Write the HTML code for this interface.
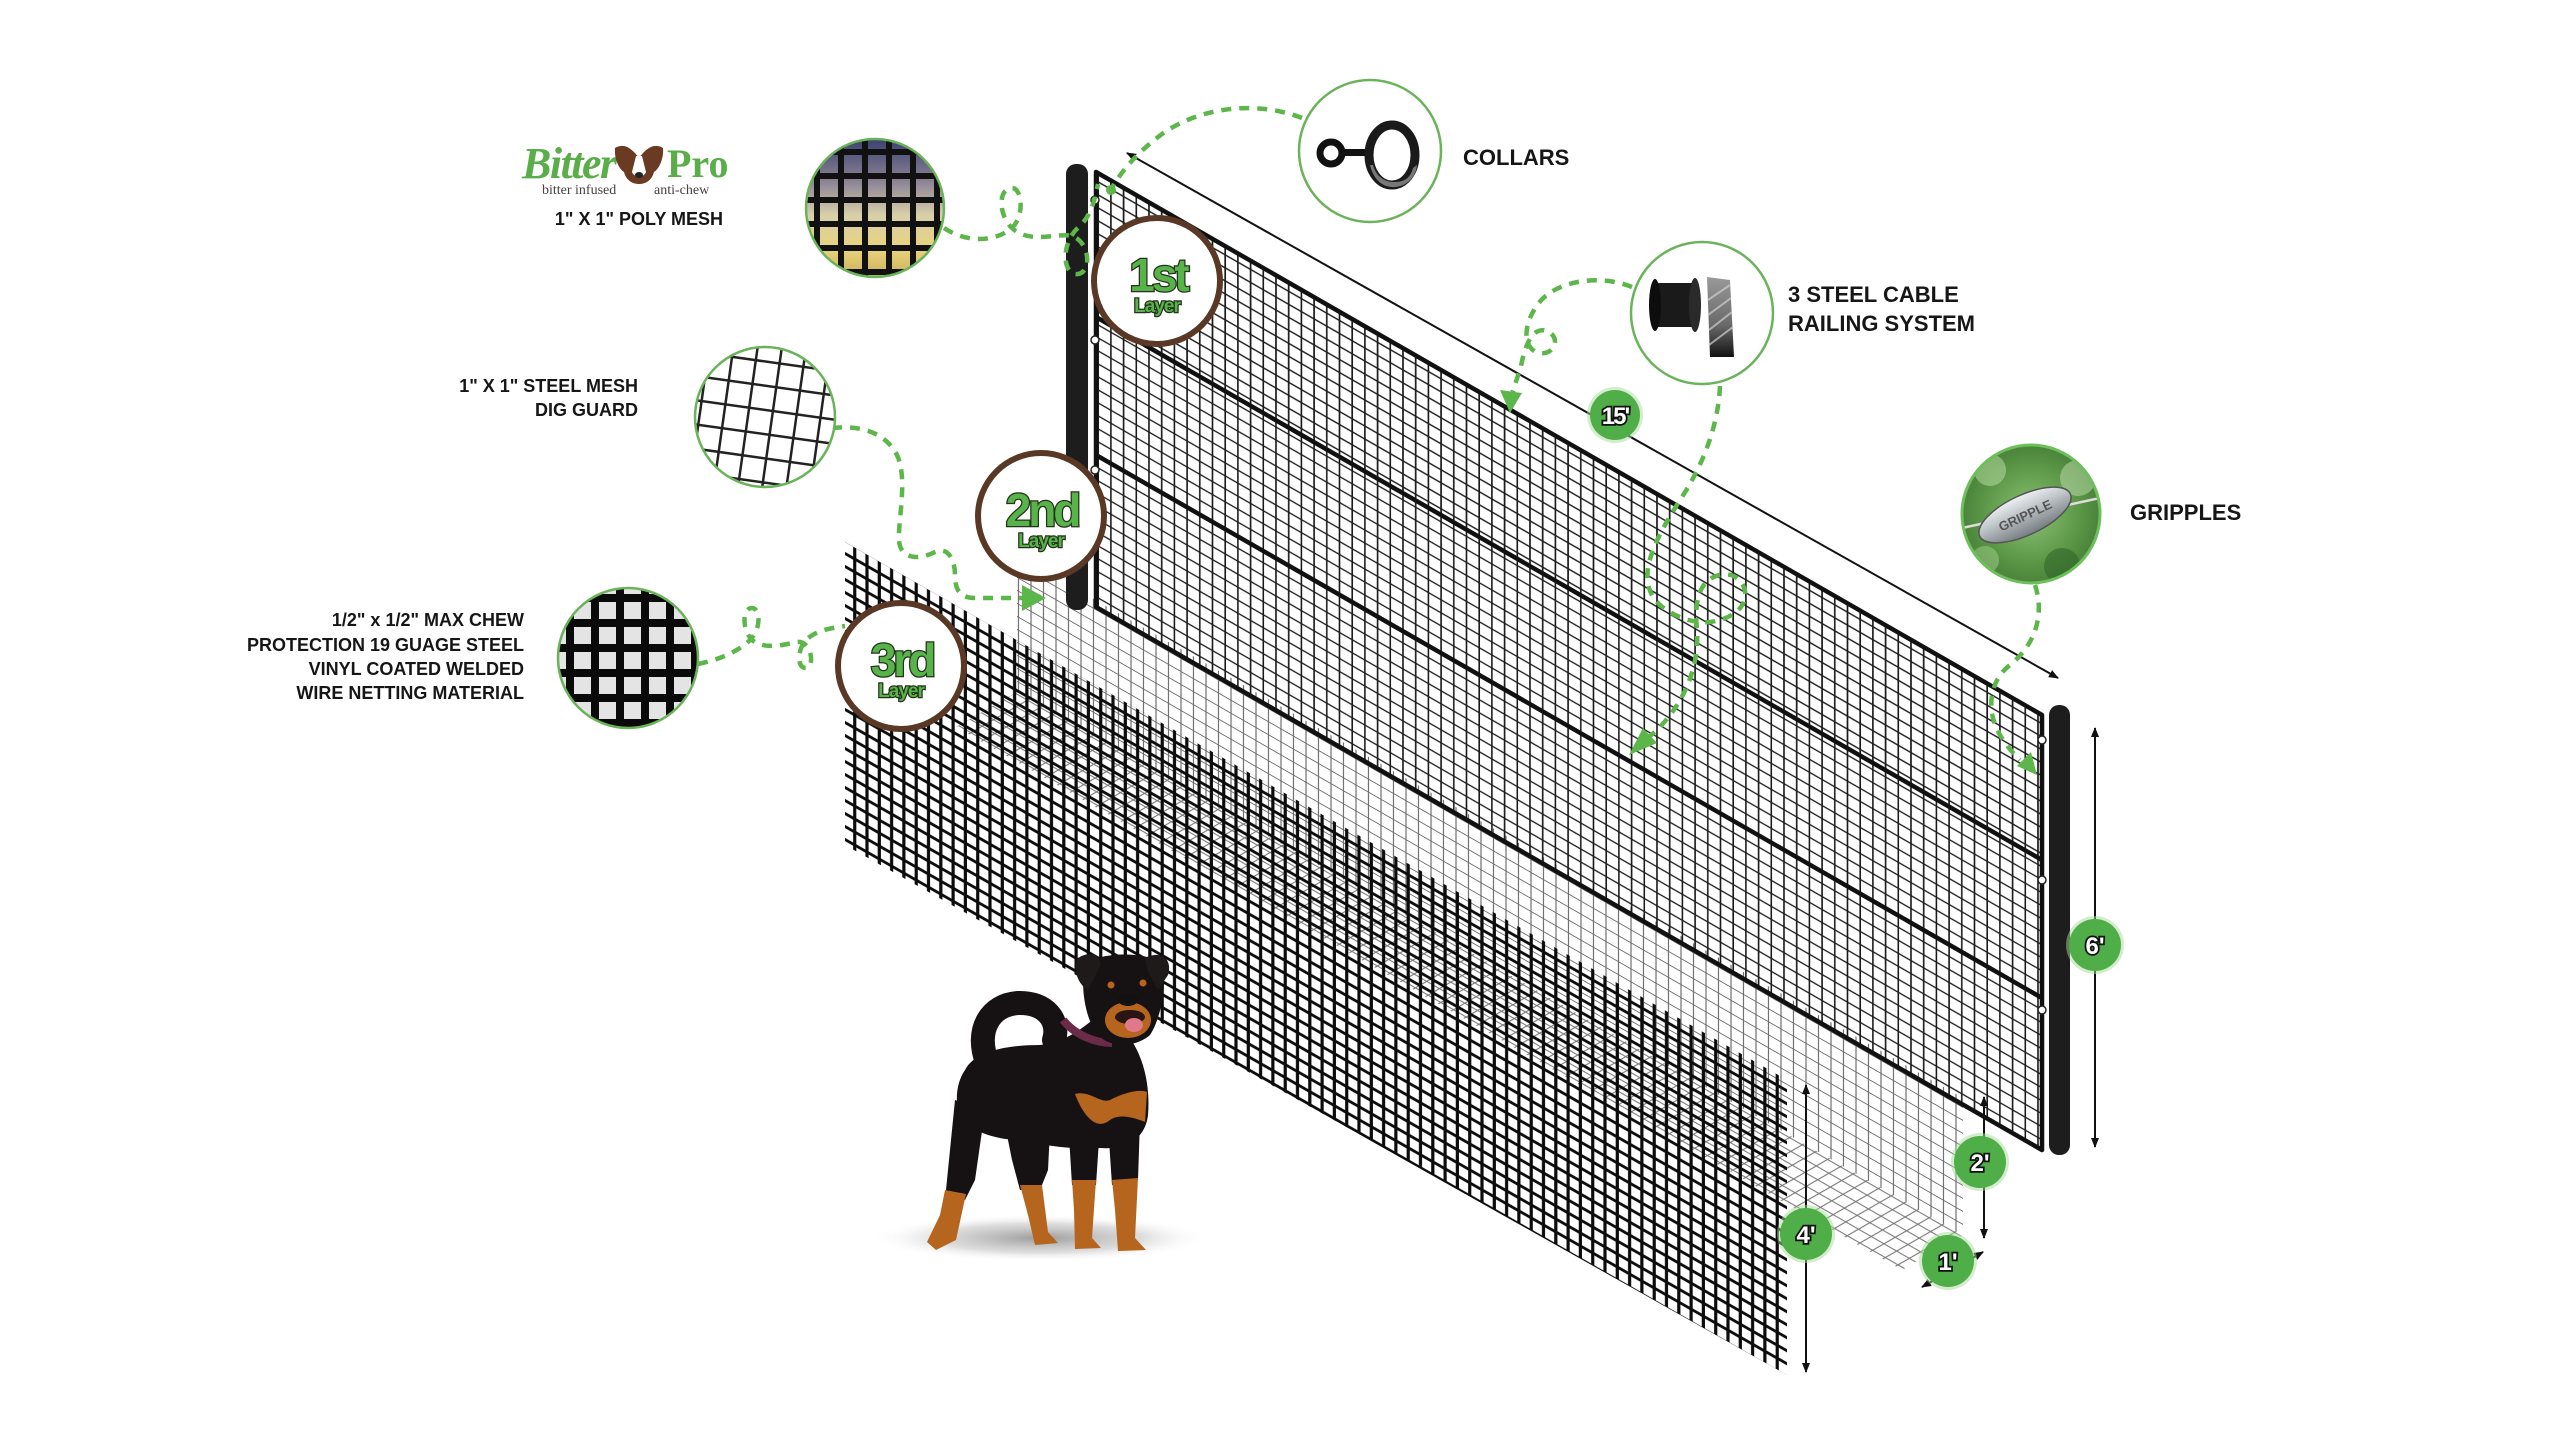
<!DOCTYPE html>
<html><head><meta charset="utf-8">
<style>html,body{margin:0;padding:0;background:#fff;}svg{display:block}</style>
</head>
<body>
<svg width="2560" height="1440" viewBox="0 0 2560 1440" xmlns="http://www.w3.org/2000/svg">
<style>
.lab{font-family:"Liberation Sans",Arial,sans-serif;font-weight:700;font-size:18px;fill:#161616}
.lab22{font-family:"Liberation Sans",Arial,sans-serif;font-weight:700;font-size:22px;fill:#161616}
.lay{font-family:"Liberation Sans",Arial,sans-serif;font-weight:700;fill:#58b34a;stroke:#24331b;stroke-width:2.5;paint-order:stroke}
.dim{font-family:"Liberation Sans",Arial,sans-serif;font-weight:700;font-size:24px;fill:#fff;stroke:#111;stroke-width:3.5;paint-order:stroke}
.cn{fill:none;stroke:#5cb64a;stroke-width:4.5;stroke-dasharray:10 8}
</style>
<defs>
 <pattern id="pFrame" width="12.7" height="13" patternUnits="userSpaceOnUse" patternTransform="skewY(29.86)">
  <path d="M6 0V13M0 6.5H12.7" stroke="#1a1a1a" stroke-width="1.6" fill="none"/>
 </pattern>
 <pattern id="pHeavy" width="12.3" height="13" patternUnits="userSpaceOnUse" patternTransform="skewY(29.7)">
  <path d="M6 0V13M0 6.5H12.3" stroke="#0c0c0c" stroke-width="3.2" fill="none"/>
 </pattern>
 <pattern id="pLight" width="12.5" height="13" patternUnits="userSpaceOnUse" patternTransform="skewY(29.86)">
  <path d="M6 0V13M0 6.5H12.5" stroke="#6a6a6a" stroke-width="1.1" fill="none"/>
 </pattern>
 <pattern id="pFloor" width="12.7" height="13" patternUnits="userSpaceOnUse" patternTransform="matrix(1,0.574,-0.87,0.5,0,0)">
  <path d="M6 0V13M0 6.5H12.7" stroke="#777" stroke-width="1.1" fill="none"/>
 </pattern>
 <clipPath id="cFrame"><polygon points="1096,172 2042,715 2042,1150 1096,607"/></clipPath>
 <clipPath id="cPoly"><circle cx="875" cy="208" r="69"/></clipPath>
 <clipPath id="cSteel"><circle cx="765" cy="417" r="70"/></clipPath>
 <clipPath id="cMax"><circle cx="628" cy="658" r="70"/></clipPath>
 <clipPath id="cGrip"><circle cx="2031" cy="514" r="69"/></clipPath>
 <linearGradient id="gPoly" x1="0" y1="0" x2="0" y2="1">
  <stop offset="0" stop-color="#3b416f"/><stop offset="0.3" stop-color="#8a8194"/>
  <stop offset="0.55" stop-color="#d8cfab"/><stop offset="0.8" stop-color="#e8d37c"/><stop offset="1" stop-color="#cdb05a"/>
 </linearGradient>
 <radialGradient id="gGrip" cx="0.5" cy="0.5" r="0.6">
  <stop offset="0" stop-color="#8cc274"/><stop offset="0.6" stop-color="#5a9646"/><stop offset="1" stop-color="#3f7532"/>
 </radialGradient>
 <linearGradient id="gMetal" x1="0" y1="0" x2="0" y2="1">
  <stop offset="0" stop-color="#eef1f2"/><stop offset="0.5" stop-color="#b3babe"/><stop offset="1" stop-color="#767d81"/>
 </linearGradient>
 <linearGradient id="gCable" x1="0" y1="0" x2="0" y2="1">
  <stop offset="0" stop-color="#9a9a9a"/><stop offset="0.6" stop-color="#6a6a6a"/><stop offset="1" stop-color="#111"/>
 </linearGradient>
 <radialGradient id="gShadow" cx="0.5" cy="0.5" r="0.5">
  <stop offset="0" stop-color="#7a7a7a" stop-opacity="0.75"/><stop offset="0.6" stop-color="#aaa" stop-opacity="0.4"/><stop offset="1" stop-color="#fff" stop-opacity="0"/>
 </radialGradient>
 <marker id="ar" viewBox="0 0 10 10" refX="9" refY="5" markerWidth="5" markerHeight="5" orient="auto-start-reverse">
  <path d="M0,1 L10,5 L0,9z" fill="#111"/>
 </marker>
</defs>
<rect width="2560" height="1440" fill="#fff"/>

<!-- dig guard (light mesh) -->
<polygon points="1017,555 1963,1098 1963,1235 1017,692" fill="url(#pLight)"/>
<polygon points="1017,692 1963,1235 1902,1270 956,727" fill="url(#pFloor)"/>

<!-- frame mesh -->
<polygon points="1096,172 2042,715 2042,1150 1096,607" fill="url(#pFrame)"/>
<polygon points="1096,172 2042,715 2042,862 1096,317" fill="url(#pFrame)" opacity="0.35"/>

<!-- frame lines -->
<polygon points="1096,172 2042,715 2042,1150 1096,607" fill="none" stroke="#111" stroke-width="4.5" stroke-linejoin="round"/>
<line x1="1096" y1="317" x2="2042" y2="860" stroke="#111" stroke-width="4.5"/>
<line x1="1096" y1="455" x2="2042" y2="998" stroke="#111" stroke-width="4.5"/>

<!-- poles -->
<rect x="1066" y="164" width="22" height="446" rx="10" fill="#1d1d1d"/>
<rect x="2049" y="705" width="21" height="450" rx="10" fill="#1d1d1d"/>
<g fill="#fff" stroke="#222" stroke-width="1.5">
 <circle cx="1095" cy="200" r="4"/><circle cx="1095" cy="340" r="4"/><circle cx="1095" cy="470" r="4"/>
 <circle cx="2042" cy="740" r="4"/><circle cx="2042" cy="880" r="4"/><circle cx="2042" cy="1010" r="4"/>
</g>

<!-- 3rd layer heavy mesh -->
<polygon points="845,542 1787,1080 1787,1375 845,845" fill="url(#pHeavy)"/>

<!-- dimension lines -->
<line x1="1127" y1="153" x2="2058" y2="678" stroke="#111" stroke-width="2" marker-start="url(#ar)" marker-end="url(#ar)"/>
<line x1="2095" y1="728" x2="2095" y2="1147" stroke="#111" stroke-width="2" marker-start="url(#ar)" marker-end="url(#ar)"/>
<line x1="1984" y1="1097" x2="1984" y2="1238" stroke="#111" stroke-width="2" marker-start="url(#ar)" marker-end="url(#ar)"/>
<line x1="1806" y1="1085" x2="1806" y2="1372" stroke="#111" stroke-width="2" marker-start="url(#ar)" marker-end="url(#ar)"/>
<line x1="1922" y1="1287" x2="1983" y2="1252" stroke="#111" stroke-width="2" marker-start="url(#ar)" marker-end="url(#ar)"/>

<!-- dog -->
<ellipse cx="1040" cy="1238" rx="170" ry="24" fill="url(#gShadow)"/>
<g>
 <path d="M955,1100 L985,1110 L975,1180 L965,1200 L945,1200 L948,1170Z" fill="#161213"/>
 <path d="M945,1190 L966,1194 L956,1240 L936,1250 L927,1242 L940,1215Z" fill="#b5651e"/>
 <path d="M1005,1125 L1050,1130 L1048,1170 L1040,1190 L1020,1190 L1012,1160Z" fill="#161213"/>
 <path d="M1020,1185 L1042,1185 L1048,1232 L1058,1243 L1035,1245 L1028,1215Z" fill="#b5651e"/>
 <path d="M1068,1120 L1100,1125 L1096,1185 L1072,1185Z" fill="#161213"/>
 <path d="M1072,1180 L1096,1180 L1092,1238 L1101,1248 L1075,1249 L1074,1210Z" fill="#b5651e"/>
 <path d="M1108,1125 L1140,1120 L1138,1180 L1112,1185Z" fill="#161213"/>
 <path d="M1112,1180 L1138,1178 L1135,1238 L1146,1250 L1118,1251 L1115,1210Z" fill="#b5651e"/>
 <path d="M987,1062 C975,1030 990,1005 1018,1003 C1045,1002 1060,1020 1054,1040" fill="none" stroke="#161213" stroke-width="24" stroke-linecap="round"/>
 <path d="M965,1070 C975,1050 1010,1045 1040,1045 C1065,1042 1080,1030 1095,1018 L1128,1035 C1146,1060 1150,1090 1148,1115 C1145,1140 1125,1150 1100,1148 C1070,1150 1045,1145 1015,1140 C990,1138 965,1130 958,1110 C955,1095 958,1080 965,1070Z" fill="#161213"/>
 <path d="M1075,1094 C1090,1090 1100,1104 1110,1100 C1125,1092 1140,1089 1147,1092 L1145,1122 C1135,1118 1120,1113 1110,1120 C1098,1130 1085,1120 1075,1094Z" fill="#b5651e"/>
 <path d="M1063,1020 C1075,1035 1095,1043 1112,1043" fill="none" stroke="#6a2a48" stroke-width="8"/>
 <path d="M1085,965 C1095,952 1150,950 1162,965 C1168,985 1160,1020 1150,1035 C1135,1048 1110,1048 1098,1035 C1085,1020 1080,985 1085,965Z" fill="#161213"/>
 <path d="M1078,958 C1090,950 1102,955 1100,966 L1088,990 C1078,985 1072,968 1078,958Z" fill="#1f1a1a"/>
 <path d="M1145,958 C1160,950 1173,958 1168,975 L1158,990 L1148,972Z" fill="#1f1a1a"/>
 <ellipse cx="1128" cy="1020" rx="23" ry="18" fill="#b5651e"/>
 <circle cx="1111" cy="985" r="3.5" fill="#b5651e"/><circle cx="1143" cy="983" r="3.5" fill="#b5651e"/>
 <ellipse cx="1128" cy="1000" rx="10" ry="6" fill="#111"/>
 <ellipse cx="1130" cy="1017" rx="15" ry="7" fill="#2a1414"/>
 <ellipse cx="1134" cy="1025" rx="9" ry="7" fill="#e07a8a"/>
</g>

<!-- connectors -->
<path class="cn" d="M1302,118 C1262,102 1205,104 1162,134 C1138,152 1122,170 1112,188"/>
<circle cx="1111" cy="190" r="5" fill="#5cb64a"/>
<path class="cn" d="M944,228 C970,245 998,240 1012,228 C1025,215 1022,188 1012,188 C998,188 998,215 1012,228 C1030,245 1058,232 1072,236 C1090,242 1092,272 1078,274 C1062,276 1060,242 1080,226 C1092,214 1095,198 1098,184"/>
<path class="cn" d="M832,428 C860,425 885,432 897,455 C908,478 898,520 899,540 C900,560 920,560 935,552 C948,546 955,560 955,575 C955,590 960,598 975,598 L1024,598"/>
<polygon points="1022,585 1046,598 1022,611" fill="#5cb64a"/>
<path class="cn" d="M698,664 C718,660 738,652 750,640 C762,628 760,608 752,608 C742,608 742,630 752,640 C765,650 782,645 797,642 C812,640 815,668 806,668 C796,668 798,648 806,640 C816,630 832,628 845,626"/>
<path class="cn" d="M1632,287 C1600,274 1556,280 1538,304 C1524,323 1522,345 1536,352 C1552,358 1562,340 1549,332 C1533,324 1525,345 1521,366 L1512,394"/>
<polygon points="1500,390 1522,393 1510,413" fill="#5cb64a"/>
<path class="cn" d="M1720,386 C1718,430 1700,470 1680,500 C1656,538 1632,580 1660,605 C1680,622 1712,630 1736,612 C1755,597 1742,570 1720,575 C1695,580 1695,610 1697,630 C1700,680 1672,718 1650,736"/>
<polygon points="1657,743 1643,728 1629,755" fill="#5cb64a"/>
<path class="cn" d="M2035,585 C2045,615 2035,645 2010,665 C1990,680 1985,710 2000,735 C2008,748 2014,754 2020,760"/>
<polygon points="2031,752 2017,766 2037,775" fill="#5cb64a"/>

<!-- logo -->
<text x="522" y="178" font-family="'Liberation Serif',serif" font-style="italic" font-weight="700" font-size="44" letter-spacing="-1.5" fill="#5aae4a">Bitter</text>
<g>
 <path d="M615,148 C625,142 633,150 639,158 C645,150 653,142 663,148 C664,160 658,170 654,172 C652,180 646,184 639,184 C632,184 626,180 624,172 C620,170 614,160 615,148Z" fill="#6b3a22"/>
 <path d="M636,156 L642,156 L646,172 C644,178 634,178 632,172Z" fill="#fff"/>
 <ellipse cx="639" cy="175" rx="4" ry="3" fill="#222"/>
</g>
<text x="667" y="177" font-family="'Liberation Serif',serif" font-weight="700" font-size="40" fill="#5aae4a">Pro</text>
<text x="542" y="194" font-family="'Liberation Serif',serif" font-size="14" fill="#4a4040">bitter infused</text>
<text x="654" y="194" font-family="'Liberation Serif',serif" font-size="14" fill="#4a4040">anti-chew</text>
<text x="639" y="225" class="lab" text-anchor="middle" font-size="17">1" X 1" POLY MESH</text>

<!-- left labels -->
<text x="638" y="392" class="lab" text-anchor="end">1" X 1" STEEL MESH</text>
<text x="638" y="416" class="lab" text-anchor="end">DIG GUARD</text>
<text x="524" y="626" class="lab" text-anchor="end">1/2" x 1/2" MAX CHEW</text>
<text x="524" y="651" class="lab" text-anchor="end">PROTECTION 19 GUAGE STEEL</text>
<text x="524" y="675" class="lab" text-anchor="end">VINYL COATED WELDED</text>
<text x="524" y="699" class="lab" text-anchor="end">WIRE NETTING MATERIAL</text>

<!-- right labels -->
<text x="1463" y="165" class="lab22">COLLARS</text>
<text x="1788" y="302" class="lab22">3 STEEL CABLE</text>
<text x="1788" y="331" class="lab22">RAILING SYSTEM</text>
<text x="2130" y="520" class="lab22">GRIPPLES</text>

<!-- poly mesh circle -->
<g clip-path="url(#cPoly)">
 <rect x="806" y="139" width="138" height="138" fill="url(#gPoly)"/>
 <g stroke="#111" stroke-width="6">
  <path d="M817,139V277M841,139V277M865,139V277M889,139V277M913,139V277M937,139V277"/>
  <path d="M806,152H944M806,176H944M806,200H944M806,224H944M806,248H944M806,272H944"/>
 </g>
</g>
<circle cx="875" cy="208" r="69" fill="none" stroke="#6bb35a" stroke-width="2.5"/>

<!-- steel mesh circle -->
<g clip-path="url(#cSteel)">
 <rect x="695" y="347" width="140" height="140" fill="#fff"/>
 <g stroke="#222" stroke-width="2.5" transform="rotate(8 765 417)">
  <path d="M700,340V500M724,340V500M748,340V500M772,340V500M796,340V500M820,340V500"/>
  <path d="M680,362H850M680,386H850M680,410H850M680,434H850M680,458H850M680,482H850"/>
 </g>
</g>
<circle cx="765" cy="417" r="70" fill="none" stroke="#6bb35a" stroke-width="2.5"/>

<!-- max chew circle -->
<g clip-path="url(#cMax)">
 <rect x="558" y="588" width="140" height="140" fill="#e4e4e4"/>
 <g stroke="#0a0a0a" stroke-width="8">
  <path d="M570,588V728M595,588V728M620,588V728M645,588V728M670,588V728M695,588V728"/>
  <path d="M558,598H698M558,623H698M558,648H698M558,673H698M558,698H698M558,723H698"/>
 </g>
</g>
<circle cx="628" cy="658" r="70" fill="none" stroke="#6bb35a" stroke-width="2.5"/>

<!-- collars circle -->
<circle cx="1370" cy="151" r="71" fill="#fff" stroke="#6bb35a" stroke-width="2.5"/>
<circle cx="1331" cy="153" r="11" fill="none" stroke="#111" stroke-width="7"/>
<rect x="1340" y="149" width="28" height="7" fill="#111"/>
<ellipse cx="1392" cy="155" rx="23" ry="30" fill="none" stroke="#1a1a1a" stroke-width="9"/>
<path d="M1370,165 C1374,182 1385,188 1395,187 C1408,186 1416,176 1417,165 L1413,168 C1410,180 1402,182 1394,182 C1384,182 1376,176 1373,165Z" fill="#777"/>

<!-- cable circle -->
<circle cx="1702" cy="313" r="71" fill="#fff" stroke="#6bb35a" stroke-width="2.5"/>
<rect x="1655" y="283" width="40" height="44" fill="#1a1a1a"/>
<ellipse cx="1655" cy="305" rx="6" ry="26" fill="#0d0d0d"/>
<ellipse cx="1695" cy="305" rx="6" ry="27" fill="#2a2a2a"/>
<path d="M1707,277 L1730,280 L1734,357 L1710,357Z" fill="url(#gCable)"/>
<g stroke="#d0d0d0" stroke-width="2" opacity="0.7">
 <path d="M1708,300 L1730,285M1708,315 L1731,298M1709,330 L1732,312M1709,345 L1733,327"/>
</g>

<!-- gripples circle -->
<g clip-path="url(#cGrip)">
 <rect x="1962" y="445" width="138" height="138" fill="url(#gGrip)"/>
 <circle cx="1990" cy="470" r="16" fill="#b5dba0" opacity="0.55"/>
 <circle cx="2078" cy="478" r="18" fill="#c2e0b0" opacity="0.5"/>
 <circle cx="1985" cy="560" r="14" fill="#9fcf88" opacity="0.5"/>
 <circle cx="2062" cy="566" r="18" fill="#2e6326" opacity="0.55"/>
 <line x1="1962" y1="528" x2="2100" y2="498" stroke="#ddd" stroke-width="2.5"/>
 <ellipse cx="2025" cy="515" rx="50" ry="20" transform="rotate(-25 2025 515)" fill="url(#gMetal)" stroke="#555" stroke-width="1.5"/>
 <text x="2025" y="520" text-anchor="middle" transform="rotate(-25 2025 515)" font-family="'Liberation Sans',sans-serif" font-weight="700" font-size="13" fill="#555">GRIPPLE</text>
</g>
<circle cx="2031" cy="514" r="69" fill="none" stroke="#6cbf5a" stroke-width="3"/>

<!-- layer badges -->
<g transform="translate(1157,281)">
 <circle r="63" fill="#fff" stroke="#5a3826" stroke-width="6"/>
 <text x="1" y="10" text-anchor="middle" font-size="46" letter-spacing="-3" class="lay">1st</text>
 <text x="0" y="31" text-anchor="middle" font-size="19" letter-spacing="-1" class="lay" stroke-width="1.5">Layer</text>
</g>
<g transform="translate(1041,516)">
 <circle r="63" fill="#fff" stroke="#5a3826" stroke-width="6"/>
 <text x="1" y="10" text-anchor="middle" font-size="46" letter-spacing="-3" class="lay">2nd</text>
 <text x="0" y="31" text-anchor="middle" font-size="19" letter-spacing="-1" class="lay" stroke-width="1.5">Layer</text>
</g>
<g transform="translate(901,666)">
 <circle r="63" fill="#fff" stroke="#5a3826" stroke-width="6"/>
 <text x="1" y="10" text-anchor="middle" font-size="46" letter-spacing="-3" class="lay">3rd</text>
 <text x="0" y="31" text-anchor="middle" font-size="19" letter-spacing="-1" class="lay" stroke-width="1.5">Layer</text>
</g>

<!-- dimension badges -->
<g>
 <circle cx="1615" cy="415" r="28" fill="#a8d99a" opacity="0.5"/>
 <circle cx="1615" cy="415" r="25" fill="#4fae47"/>
 <text x="1615" y="424" text-anchor="middle" class="dim" letter-spacing="-2">15'</text>
</g>
<g>
 <circle cx="2095" cy="945" r="29" fill="#a8d99a" opacity="0.5"/>
 <circle cx="2095" cy="945" r="26" fill="#4fae47"/>
 <text x="2095" y="954" text-anchor="middle" class="dim">6'</text>
</g>
<g>
 <circle cx="1980" cy="1162" r="29" fill="#a8d99a" opacity="0.5"/>
 <circle cx="1980" cy="1162" r="26" fill="#4fae47"/>
 <text x="1980" y="1171" text-anchor="middle" class="dim">2'</text>
</g>
<g>
 <circle cx="1806" cy="1234" r="29" fill="#a8d99a" opacity="0.5"/>
 <circle cx="1806" cy="1234" r="26" fill="#4fae47"/>
 <text x="1806" y="1243" text-anchor="middle" class="dim">4'</text>
</g>
<g>
 <circle cx="1948" cy="1261" r="29" fill="#a8d99a" opacity="0.5"/>
 <circle cx="1948" cy="1261" r="26" fill="#4fae47"/>
 <text x="1948" y="1270" text-anchor="middle" class="dim">1'</text>
</g>
</svg>
</body></html>
